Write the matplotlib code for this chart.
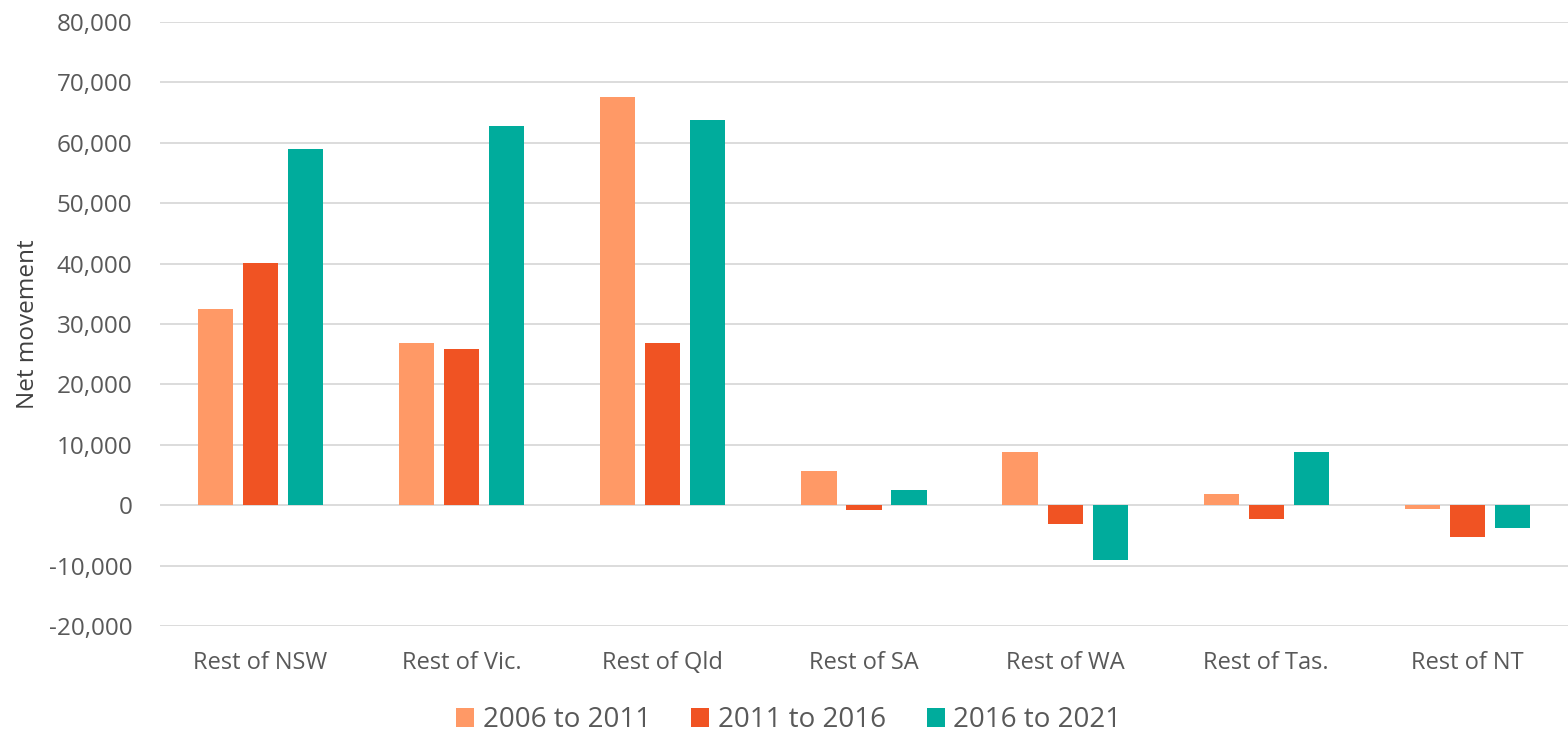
import matplotlib
matplotlib.use("Agg")
import matplotlib.pyplot as plt
import numpy as np
from matplotlib.ticker import FuncFormatter, MultipleLocator

plt.rcParams['font.family'] = ['Open Sans', 'DejaVu Sans']

regions = ["Rest of NSW", "Rest of Vic.", "Rest of Qld", "Rest of SA",
           "Rest of WA", "Rest of Tas.", "Rest of NT"]
periods = ["2006 to 2011", "2011 to 2016", "2016 to 2021"]
move_2006_2011 = [32500, 26800, 67600, 5700, 8800, 1850, -600]
move_2011_2016 = [40100, 25800, 26900, -800, -3050, -2300, -5200]
move_2016_2021 = [58900, 62800, 63700, 2500, -9000, 8800, -3800]
colors = ["#FF9966", "#F05323", "#00AC9C"]

series = [move_2006_2011, move_2011_2016, move_2016_2021]

fig = plt.figure(figsize=(15.68, 7.33), dpi=100)
ax = fig.add_axes([0.102, 0.146, 0.898, 0.824])

x = np.arange(len(regions))
width = 0.175
step = 0.224
for i, (vals, col, lab) in enumerate(zip(series, colors, periods)):
    ax.bar(x + (i - 1) * step, vals, width, color=col, label=lab, zorder=3)

ax.set_xlim(-0.5, len(regions) - 0.5)
ax.set_ylim(-20000, 80000)
ax.yaxis.set_major_locator(MultipleLocator(10000))
ax.yaxis.set_major_formatter(FuncFormatter(lambda v, p: f"{int(v):,}"))
ax.grid(axis='y', color='#D9D9D9', linewidth=1.3, zorder=0)
for s in ax.spines.values():
    s.set_visible(False)
ax.tick_params(axis='both', length=0)
ax.tick_params(axis='y', labelsize=17.5, labelcolor='#595959', pad=20)
ax.set_xticks(x)
ax.set_xticklabels(regions, fontsize=17, color='#595959')
ax.tick_params(axis='x', pad=18)
ax.set_ylabel("Net movement", fontsize=17.5, color='#404040', labelpad=6)

leg = fig.legend(loc='lower center', bbox_to_anchor=(0.503, -0.036), ncol=3,
                 frameon=False, fontsize=20, labelcolor='#595959',
                 handlelength=0.65, handleheight=0.65, handletextpad=0.32,
                 columnspacing=1.45)

fig.savefig("out.png", dpi=100)
